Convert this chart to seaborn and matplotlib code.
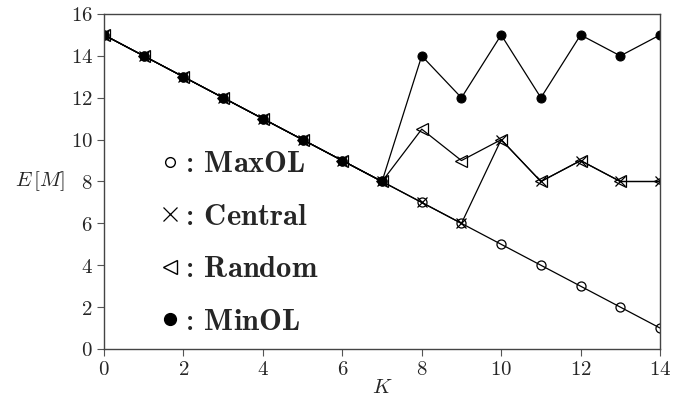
import matplotlib
matplotlib.use("Agg")
import matplotlib.pyplot as plt
import seaborn as sns
import numpy as np
from matplotlib.lines import Line2D

K = list(range(15))
maxol = [15, 14, 13, 12, 11, 10, 9, 8, 7, 6, 5, 4, 3, 2, 1]
central = [15, 14, 13, 12, 11, 10, 9, 8, 7, 6, 10, 8, 9, 8, 8]
random_ = [15, 14, 13, 12, 11, 10, 9, 8, 10.5, 9, 10, 8, 9, 8, 8]
minol = [15, 14, 13, 12, 11, 10, 9, 8, 14, 12, 15, 12, 15, 14, 15]
labels = ["MaxOL", "Central", "Random", "MinOL"]
xticks = [0, 2, 4, 6, 8, 10, 12, 14]
yticks = [0, 2, 4, 6, 8, 10, 12, 14, 16]

sns.set_style("ticks")
plt.rcParams["mathtext.fontset"] = "cm"
plt.rcParams["font.family"] = ["DejaVu Serif"]

fig = plt.figure(figsize=(6.84, 4.0), dpi=100)
ax = fig.add_axes([0.152, 0.1275, 0.813, 0.8375])

lw = 0.9
sns.lineplot(x=K, y=minol, ax=ax, color="black", lw=lw, marker="o", markersize=6.5,
             markerfacecolor="black", markeredgecolor="black")
sns.lineplot(x=K, y=random_, ax=ax, color="black", lw=lw, marker="<", markersize=8,
             markerfacecolor="none", markeredgecolor="black", markeredgewidth=0.9)
sns.lineplot(x=K, y=central, ax=ax, color="black", lw=lw, marker="x", markersize=7,
             markeredgecolor="black", markeredgewidth=0.9)
sns.lineplot(x=K, y=maxol, ax=ax, color="black", lw=lw, marker="o", markersize=6.5,
             markerfacecolor="none", markeredgecolor="black", markeredgewidth=0.9)

ax.set_xlim(0, 14)
ax.set_ylim(0, 16)
ax.set_xticks(xticks)
ax.set_yticks(yticks)
ax.set_xticklabels([f"${t}$" for t in xticks], fontsize=15)
ax.set_yticklabels([f"${t}$" for t in yticks], fontsize=15)
ax.tick_params(direction="out", length=5, width=0.8, color="#555555", pad=3)
for s in ax.spines.values():
    s.set_linewidth(1.0)
    s.set_color("#444444")
ax.set_xlabel("$K$", fontsize=15, labelpad=-1)
ax.set_ylabel("$E\\,[M]$", fontsize=15, rotation=0, labelpad=22, va="center")

handles = [
    Line2D([], [], ls="none", marker="o", markersize=7, mfc="none", mec="black"),
    Line2D([], [], ls="none", marker="x", markersize=10, mec="black", mew=0.9),
    Line2D([], [], ls="none", marker="<", markersize=10, mfc="none", mec="black"),
    Line2D([], [], ls="none", marker="o", markersize=8.5, mfc="black", mec="black"),
]
leg_labels = [f": $\\mathbf{{{l}}}$" for l in labels]
leg = ax.legend(handles, leg_labels, loc="upper left", bbox_to_anchor=(0.08, 0.635),
                frameon=False, fontsize=22, handlelength=0.6, handletextpad=0.15,
                labelspacing=0.7, borderaxespad=0)

fig.savefig("out.png", dpi=100)
